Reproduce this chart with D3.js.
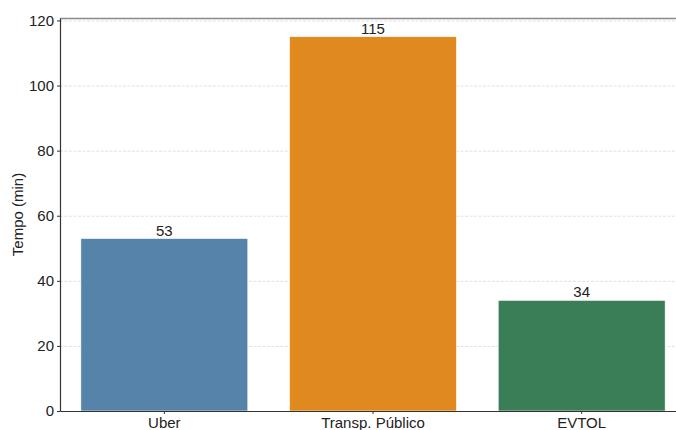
<!DOCTYPE html>
<html>
<head>
<meta charset="utf-8">
<script src="https://cdn.jsdelivr.net/npm/d3@7"></script>
<style>
  body { margin: 0; background: #fff; }
  text { font-family: "Liberation Sans", Arial, sans-serif; fill: #222; }
  .axis path, .axis line { stroke: #333; }
  .axis text { font-size: 15px; }
</style>
</head>
<body>
<div id="chart"></div>
<script>
var categories = ["Uber", "Transp. Público", "EVTOL"];
var tempos = [53, 115, 34];
var colors = ["#5683a9", "#e0891f", "#3a7e57"];
var yTicks = [0, 20, 40, 60, 80, 100, 120];

var width = 676;
var height = 430;
var margin = { top: 18, left: 60, right: -10, bottom: 19 };

var svg = d3.select("#chart")
    .append("svg")
    .attr("width", width)
    .attr("height", height);

var xScale = d3.scaleBand()
    .domain(categories)
    .range([margin.left, width - margin.right])
    .paddingInner(0.2)
    .paddingOuter(0.1);

var yScale = d3.scaleLinear()
    .domain([0, d3.max(tempos) * 1.05])
    .range([height - margin.bottom, margin.top]);

// grid
svg.append("g")
    .selectAll("line")
    .data(yTicks)
    .enter()
    .append("line")
    .attr("x1", margin.left)
    .attr("x2", width)
    .attr("y1", function(d) { return yScale(d) + 0.5; })
    .attr("y2", function(d) { return yScale(d) + 0.5; })
    .attr("stroke", "#cccccc")
    .attr("stroke-width", 0.6)
    .attr("stroke-dasharray", "3,1.5");

// bars
svg.selectAll("rect.bar")
    .data(tempos)
    .enter()
    .append("rect")
    .attr("class", "bar")
    .attr("x", function(d, i) { return xScale(categories[i]); })
    .attr("y", function(d) { return yScale(d); })
    .attr("width", xScale.bandwidth())
    .attr("height", function(d) { return yScale(0) - yScale(d); })
    .attr("fill", function(d, i) { return colors[i]; })
    .attr("stroke", "#fff")
    .attr("stroke-width", 0.6);

// value labels
svg.selectAll("text.val")
    .data(tempos)
    .enter()
    .append("text")
    .attr("class", "val")
    .attr("x", function(d, i) { return xScale(categories[i]) + xScale.bandwidth() / 2; })
    .attr("y", function(d) { return yScale(d) - 3; })
    .attr("text-anchor", "middle")
    .attr("font-size", "15px")
    .text(function(d) { return d; });

// top spine
svg.append("line")
    .attr("x1", margin.left)
    .attr("x2", width)
    .attr("y1", margin.top + 0.5)
    .attr("y2", margin.top + 0.5)
    .attr("stroke", "#8a8a8a")
    .attr("stroke-width", 1.5);

var xAxis = svg.append("g")
    .attr("class", "axis")
    .attr("transform", "translate(0," + (height - margin.bottom) + ")")
    .call(d3.axisBottom(xScale).tickSize(3).tickPadding(3).tickSizeOuter(0));
xAxis.select(".domain").attr("stroke-width", 1.2);

var yAxis = svg.append("g")
    .attr("class", "axis")
    .attr("transform", "translate(" + margin.left + ",0)")
    .call(d3.axisLeft(yScale).tickValues(yTicks).tickSize(3).tickPadding(3).tickSizeOuter(0));
yAxis.select(".domain").attr("stroke-width", 1.2);

svg.append("text")
    .attr("transform", "rotate(-90)")
    .attr("x", -(margin.top + (height - margin.bottom)) / 2)
    .attr("y", 23)
    .attr("text-anchor", "middle")
    .attr("font-size", "15px")
    .text("Tempo (min)");
</script>
</body>
</html>
